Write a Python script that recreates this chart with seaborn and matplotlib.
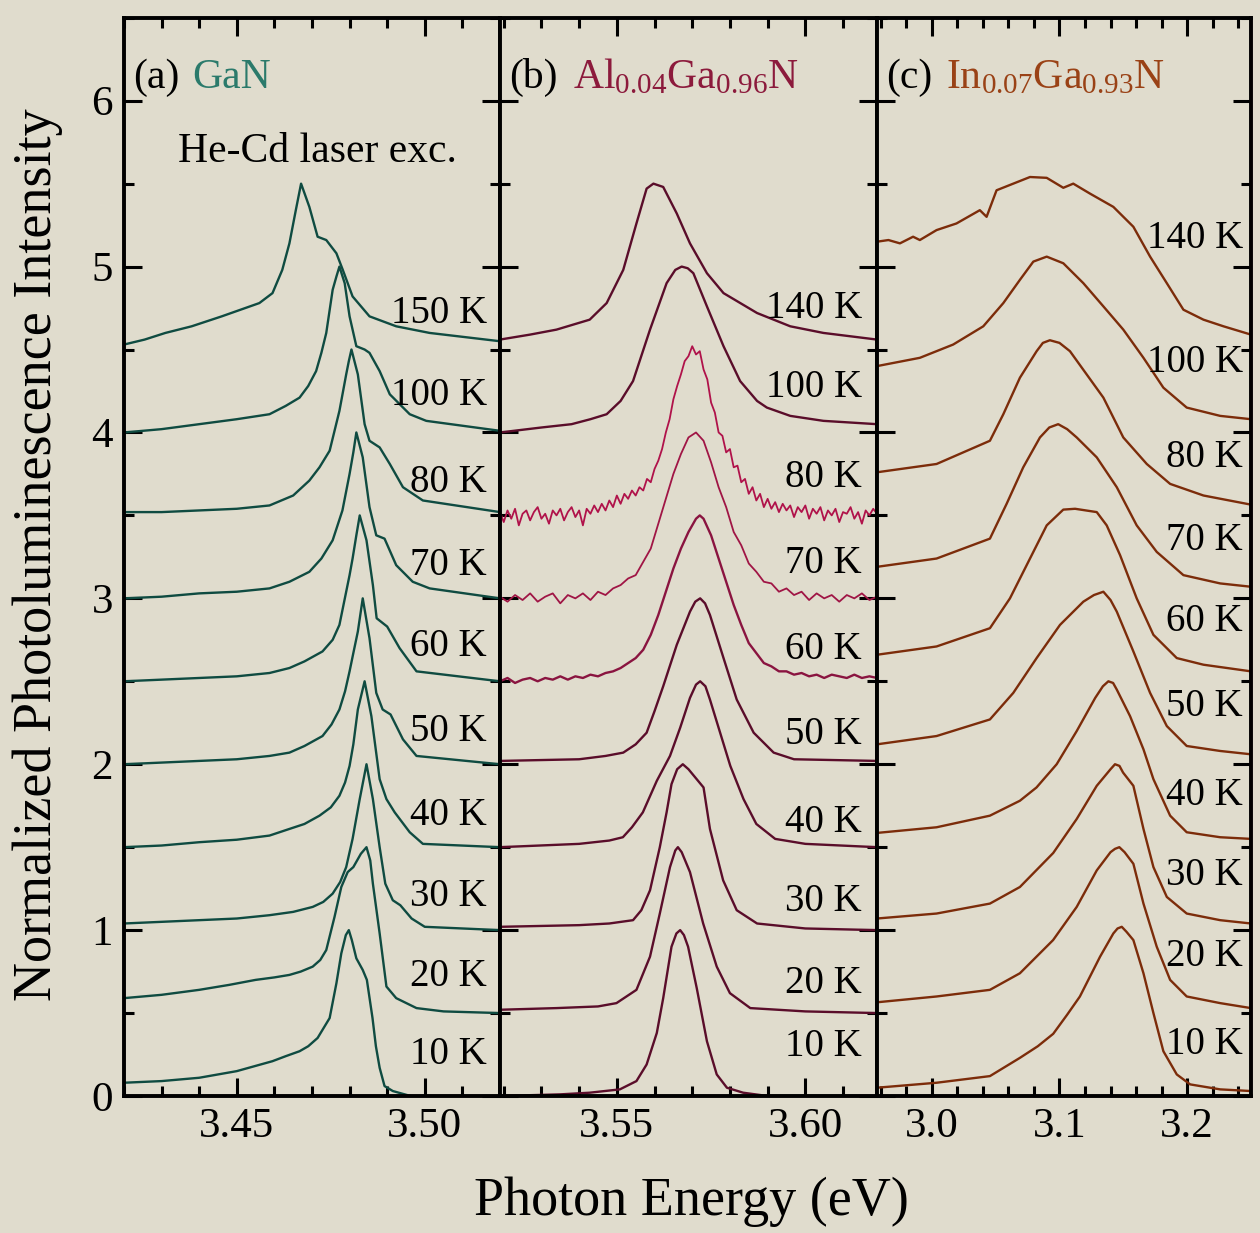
import matplotlib
matplotlib.use('Agg')
import matplotlib.pyplot as plt
import matplotlib.transforms as mtransforms
from matplotlib.ticker import MultipleLocator, FormatStrFormatter
import seaborn as sns

# ---------------- data ----------------
# (a) GaN : photon energy (eV) / normalized intensity, one list pair per temperature
gan_10K_e = [3.420, 3.430, 3.440, 3.450, 3.4595, 3.463, 3.4667, 3.469, 3.4715, 3.4747, 3.4765, 3.4778, 3.4790, 3.4798, 3.4806, 3.4818, 3.4835, 3.4846, 3.4861, 3.4870, 3.4880, 3.4893, 3.4915, 3.4978, 3.5030]
gan_10K_i = [0.08, 0.09, 0.11, 0.15, 0.21, 0.24, 0.27, 0.30, 0.35, 0.47, 0.68, 0.86, 0.97, 1.00, 0.94, 0.83, 0.76, 0.70, 0.47, 0.30, 0.17, 0.06, 0.03, -0.01, -0.06]
gan_20K_e = [3.420, 3.430, 3.440, 3.448, 3.455, 3.460, 3.4640, 3.467, 3.4702, 3.4722, 3.4738, 3.4760, 3.4778, 3.4795, 3.4810, 3.4830, 3.4845, 3.4855, 3.4862, 3.4880, 3.4898, 3.4924, 3.4978, 3.5050, 3.520]
gan_20K_i = [0.09, 0.11, 0.14, 0.17, 0.20, 0.215, 0.23, 0.25, 0.28, 0.32, 0.38, 0.58, 0.76, 0.85, 0.88, 0.96, 1.00, 0.92, 0.78, 0.48, 0.16, 0.09, 0.03, 0.01, 0.0]
gan_30K_e = [3.420, 3.430, 3.440, 3.450, 3.4587, 3.465, 3.4702, 3.473, 3.4755, 3.4775, 3.4791, 3.4808, 3.4827, 3.4845, 3.4862, 3.4880, 3.4895, 3.4915, 3.4935, 3.4965, 3.500, 3.520]
gan_30K_i = [0.04, 0.05, 0.06, 0.07, 0.09, 0.11, 0.14, 0.17, 0.22, 0.29, 0.38, 0.55, 0.79, 1.00, 0.79, 0.50, 0.28, 0.18, 0.15, 0.07, 0.02, 0.0]
gan_40K_e = [3.420, 3.430, 3.440, 3.450, 3.4587, 3.464, 3.468, 3.472, 3.475, 3.4773, 3.4788, 3.480, 3.481, 3.4822, 3.484, 3.4858, 3.488, 3.4898, 3.492, 3.496, 3.4995, 3.520]
gan_40K_i = [0.0, 0.01, 0.03, 0.045, 0.07, 0.11, 0.14, 0.19, 0.24, 0.31, 0.39, 0.49, 0.62, 0.83, 1.00, 0.79, 0.41, 0.29, 0.21, 0.09, 0.02, 0.0]
gan_50K_e = [3.420, 3.430, 3.440, 3.450, 3.4587, 3.464, 3.468, 3.4728, 3.4752, 3.4773, 3.4788, 3.480, 3.481, 3.4822, 3.4835, 3.4853, 3.4871, 3.4888, 3.4909, 3.4942, 3.4978, 3.520]
gan_50K_i = [0.0, 0.01, 0.02, 0.03, 0.05, 0.07, 0.11, 0.17, 0.24, 0.33, 0.44, 0.56, 0.67, 0.80, 1.00, 0.76, 0.43, 0.33, 0.30, 0.15, 0.05, 0.0]
gan_60K_e = [3.420, 3.430, 3.440, 3.450, 3.4587, 3.464, 3.468, 3.4728, 3.4755, 3.4773, 3.4791, 3.4800, 3.4808, 3.4818, 3.4827, 3.4845, 3.4862, 3.4872, 3.4900, 3.4933, 3.4978, 3.520]
gan_60K_i = [0.0, 0.01, 0.02, 0.03, 0.05, 0.08, 0.12, 0.18, 0.25, 0.34, 0.54, 0.64, 0.74, 0.88, 1.00, 0.85, 0.58, 0.38, 0.33, 0.20, 0.06, 0.0]
gan_70K_e = [3.420, 3.430, 3.440, 3.450, 3.4587, 3.464, 3.4693, 3.4725, 3.4755, 3.4768, 3.4781, 3.4800, 3.4810, 3.4818, 3.4835, 3.4853, 3.4871, 3.4893, 3.4924, 3.4968, 3.5013, 3.520]
gan_70K_i = [0.0, 0.01, 0.03, 0.04, 0.06, 0.10, 0.16, 0.24, 0.35, 0.44, 0.53, 0.75, 0.88, 1.00, 0.85, 0.55, 0.38, 0.36, 0.20, 0.10, 0.06, 0.0]
gan_80K_e = [3.420, 3.430, 3.440, 3.450, 3.4587, 3.465, 3.4693, 3.472, 3.4747, 3.476, 3.4773, 3.4791, 3.4798, 3.4805, 3.4822, 3.4840, 3.4853, 3.4880, 3.4907, 3.4942, 3.4995, 3.520]
gan_80K_i = [0.02, 0.02, 0.03, 0.04, 0.06, 0.12, 0.21, 0.29, 0.39, 0.51, 0.63, 0.85, 0.93, 1.00, 0.85, 0.55, 0.45, 0.41, 0.31, 0.17, 0.09, 0.02]
gan_100K_e = [3.420, 3.430, 3.440, 3.450, 3.4587, 3.463, 3.4667, 3.469, 3.4711, 3.4725, 3.4738, 3.4755, 3.4765, 3.4773, 3.4787, 3.4800, 3.4818, 3.4840, 3.4853, 3.4880, 3.4907, 3.4960, 3.5004, 3.520]
gan_100K_i = [0.0, 0.02, 0.05, 0.08, 0.11, 0.16, 0.21, 0.28, 0.37, 0.48, 0.60, 0.86, 0.94, 1.00, 0.90, 0.70, 0.52, 0.50, 0.48, 0.37, 0.23, 0.11, 0.07, 0.01]
gan_150K_e = [3.420, 3.4255, 3.431, 3.438, 3.446, 3.451, 3.456, 3.4595, 3.4621, 3.4640, 3.4657, 3.4671, 3.4693, 3.4715, 3.4738, 3.4765, 3.4782, 3.4808, 3.4853, 3.4924, 3.5013, 3.520]
gan_150K_i = [0.03, 0.06, 0.10, 0.14, 0.20, 0.24, 0.28, 0.34, 0.48, 0.64, 0.84, 1.00, 0.86, 0.68, 0.66, 0.58, 0.48, 0.32, 0.20, 0.14, 0.10, 0.05]

# (b) Al0.04Ga0.96N
alg_10K_e = [3.519, 3.535, 3.5428, 3.5508, 3.5552, 3.5579, 3.5606, 3.5623, 3.5645, 3.5658, 3.5668, 3.5678, 3.5689, 3.5712, 3.5739, 3.5765, 3.5792, 3.5835, 3.590, 3.619]
alg_10K_i = [0.0, 0.01, 0.02, 0.04, 0.09, 0.19, 0.38, 0.59, 0.90, 0.98, 1.00, 0.97, 0.90, 0.65, 0.33, 0.13, 0.05, 0.02, 0.0, 0.0]
alg_20K_e = [3.519, 3.534, 3.545, 3.5499, 3.5552, 3.5588, 3.5614, 3.5641, 3.5655, 3.5662, 3.5672, 3.5694, 3.5729, 3.5765, 3.580, 3.5854, 3.600, 3.619]
alg_20K_i = [0.02, 0.03, 0.04, 0.06, 0.14, 0.34, 0.60, 0.88, 0.98, 1.00, 0.97, 0.85, 0.54, 0.28, 0.12, 0.03, 0.01, 0.0]
alg_30K_e = [3.519, 3.540, 3.548, 3.5543, 3.5565, 3.5588, 3.5614, 3.5632, 3.5645, 3.5660, 3.5675, 3.5690, 3.5730, 3.5747, 3.5782, 3.5818, 3.5872, 3.600, 3.619]
alg_30K_i = [0.02, 0.03, 0.04, 0.06, 0.12, 0.24, 0.50, 0.71, 0.88, 0.97, 1.00, 0.97, 0.86, 0.61, 0.30, 0.12, 0.04, 0.01, 0.0]
alg_40K_e = [3.519, 3.540, 3.548, 3.5516, 3.554, 3.5569, 3.5606, 3.5641, 3.5668, 3.5694, 3.5710, 3.5721, 3.5735, 3.5747, 3.5774, 3.5801, 3.5836, 3.5870, 3.5920, 3.600, 3.619]
alg_40K_i = [0.0, 0.02, 0.04, 0.06, 0.12, 0.21, 0.40, 0.55, 0.72, 0.90, 0.98, 1.00, 0.97, 0.89, 0.69, 0.49, 0.29, 0.14, 0.05, 0.02, 0.0]
alg_50K_e = [3.519, 3.540, 3.547, 3.5517, 3.555, 3.5579, 3.560, 3.5623, 3.5659, 3.5694, 3.5708, 3.5721, 3.5734, 3.5747, 3.5783, 3.5818, 3.5863, 3.5916, 3.597, 3.619]
alg_50K_i = [0.02, 0.03, 0.05, 0.07, 0.12, 0.19, 0.32, 0.47, 0.72, 0.92, 0.98, 1.00, 0.97, 0.90, 0.64, 0.39, 0.19, 0.07, 0.03, 0.02]
alg_60K_e = [3.519, 3.521, 3.523, 3.525, 3.527, 3.529, 3.531, 3.533, 3.535, 3.537, 3.539, 3.541, 3.543, 3.545, 3.547,
             3.549, 3.551, 3.553, 3.555, 3.557, 3.559, 3.561, 3.563, 3.565, 3.567, 3.569, 3.571, 3.572, 3.573, 3.575,
             3.577, 3.579, 3.581, 3.583, 3.585, 3.587, 3.589, 3.591, 3.593, 3.595, 3.597, 3.599, 3.601, 3.603, 3.605,
             3.607, 3.609, 3.611, 3.613, 3.615, 3.617, 3.619]
alg_60K_i = [0.00, 0.02, -0.01, 0.01, 0.02, 0.00, 0.02, 0.01, 0.03, 0.01, 0.03, 0.02, 0.04, 0.03, 0.05,
             0.06, 0.08, 0.11, 0.14, 0.19, 0.28, 0.40, 0.54, 0.68, 0.80, 0.90, 0.98, 1.00, 0.98, 0.88,
             0.74, 0.60, 0.46, 0.34, 0.23, 0.17, 0.11, 0.09, 0.06, 0.06, 0.04, 0.05, 0.03, 0.04, 0.02,
             0.04, 0.03, 0.02, 0.04, 0.02, 0.03, 0.02]
alg_70K_e = [3.519, 3.521, 3.523, 3.525, 3.527, 3.529, 3.531, 3.533, 3.535, 3.537, 3.539, 3.541, 3.543, 3.545, 3.547,
             3.549, 3.551, 3.553, 3.555, 3.557, 3.559, 3.561, 3.563, 3.565, 3.567, 3.569, 3.571, 3.573, 3.575, 3.577,
             3.579, 3.581, 3.583, 3.585, 3.587, 3.589, 3.591, 3.593, 3.595, 3.597, 3.599, 3.601, 3.603, 3.605, 3.607,
             3.609, 3.611, 3.613, 3.615, 3.617, 3.619]
alg_70K_i = [0.01, -0.02, 0.02, -0.01, 0.03, -0.02, 0.01, 0.03, -0.03, 0.02, 0.00, 0.03, -0.01, 0.04, 0.02,
             0.06, 0.08, 0.12, 0.14, 0.22, 0.30, 0.45, 0.60, 0.75, 0.87, 0.97, 1.00, 0.95, 0.82, 0.67,
             0.55, 0.40, 0.32, 0.21, 0.16, 0.10, 0.09, 0.04, 0.06, 0.02, 0.04, -0.01, 0.03, 0.00, 0.02,
             -0.02, 0.02, 0.00, 0.03, -0.01, 0.01]
alg_80K_e = [3.519, 3.520, 3.521, 3.522, 3.523, 3.524, 3.525, 3.526, 3.527, 3.528, 3.529, 3.530, 3.531, 3.532, 3.533,
             3.534, 3.535, 3.536, 3.537, 3.538, 3.539, 3.540, 3.541, 3.542, 3.543, 3.544, 3.545, 3.546, 3.547, 3.548,
             3.549, 3.550, 3.551, 3.552, 3.553, 3.554, 3.555, 3.556, 3.557, 3.558, 3.559, 3.560, 3.561, 3.562, 3.563,
             3.564, 3.565, 3.566, 3.567, 3.568, 3.569, 3.570, 3.571, 3.572, 3.573, 3.574, 3.575, 3.576, 3.577, 3.578,
             3.579, 3.580, 3.581, 3.582, 3.583, 3.584, 3.585, 3.586, 3.587, 3.588, 3.589, 3.590, 3.591, 3.592, 3.593,
             3.594, 3.595, 3.596, 3.597, 3.598, 3.599, 3.600, 3.601, 3.602, 3.603, 3.604, 3.605, 3.606, 3.607, 3.608,
             3.609, 3.610, 3.611, 3.612, 3.613, 3.614, 3.615, 3.616, 3.617, 3.618, 3.619]
alg_80K_i = [0.02, -0.04, 0.03, -0.02, 0.04, -0.06, 0.01, 0.03, -0.03, 0.02, 0.05, -0.02, 0.01, -0.05, 0.03,
             0.00, 0.04, -0.03, 0.02, 0.05, -0.01, 0.03, -0.06, 0.04, 0.01, 0.06, 0.02, 0.07, 0.03, 0.09,
             0.05, 0.12, 0.07, 0.13, 0.10, 0.15, 0.12, 0.17, 0.15, 0.22, 0.20, 0.28, 0.33, 0.40, 0.50,
             0.58, 0.70, 0.78, 0.85, 0.93, 0.96, 1.02, 0.97, 0.99, 0.88, 0.82, 0.68, 0.62, 0.50, 0.48,
             0.38, 0.40, 0.29, 0.30, 0.20, 0.22, 0.13, 0.17, 0.09, 0.13, 0.05, 0.10, 0.04, 0.08, 0.02,
             0.07, 0.03, 0.06, -0.01, 0.05, 0.02, 0.06, -0.02, 0.04, 0.01, 0.05, -0.03, 0.03, 0.00, 0.04,
             -0.04, 0.02, 0.01, 0.05, -0.02, 0.02, -0.05, 0.03, 0.00, 0.04, 0.01]
alg_100K_e = [3.519, 3.530, 3.538, 3.543, 3.5473, 3.551, 3.5543, 3.5588, 3.5632, 3.5655, 3.5672, 3.5688, 3.5703, 3.5739, 3.5783, 3.5827, 3.5872, 3.5898, 3.596, 3.6048, 3.619]
alg_100K_i = [0.0, 0.03, 0.05, 0.08, 0.11, 0.19, 0.31, 0.62, 0.90, 0.98, 1.00, 0.99, 0.96, 0.76, 0.52, 0.31, 0.19, 0.15, 0.10, 0.07, 0.05]
alg_140K_e = [3.519, 3.527, 3.534, 3.5428, 3.5473, 3.5517, 3.5552, 3.5579, 3.5597, 3.5623, 3.5659, 3.5694, 3.5739, 3.5783, 3.5872, 3.596, 3.6048, 3.619]
alg_140K_i = [0.06, 0.09, 0.12, 0.18, 0.28, 0.48, 0.76, 0.97, 1.00, 0.98, 0.82, 0.64, 0.46, 0.34, 0.22, 0.14, 0.10, 0.06]

# (c) In0.07Ga0.93N
ing_10K_e = [2.957, 3.0037, 3.0455, 3.069, 3.083, 3.0951, 3.106, 3.116, 3.1318, 3.1422, 3.1455, 3.1488, 3.1525, 3.1579, 3.1658, 3.1736, 3.1814, 3.1919, 3.2024, 3.2259, 3.250]
ing_10K_i = [0.05, 0.08, 0.12, 0.23, 0.30, 0.375, 0.49, 0.60, 0.84, 0.98, 1.01, 1.02, 0.99, 0.94, 0.74, 0.50, 0.27, 0.13, 0.07, 0.04, 0.03]
ing_20K_e = [2.957, 3.0037, 3.0455, 3.069, 3.095, 3.1135, 3.1292, 3.1400, 3.1435, 3.1469, 3.151, 3.1579, 3.1658, 3.1762, 3.1867, 3.1997, 3.2259, 3.250]
ing_20K_i = [0.065, 0.10, 0.14, 0.24, 0.44, 0.64, 0.86, 0.97, 0.99, 1.00, 0.97, 0.90, 0.66, 0.40, 0.20, 0.10, 0.06, 0.03]
ing_30K_e = [2.957, 3.0037, 3.0455, 3.069, 3.0951, 3.1135, 3.1292, 3.1400, 3.1435, 3.1470, 3.1498, 3.1579, 3.1658, 3.1736, 3.1841, 3.1997, 3.2259, 3.250]
ing_30K_i = [0.07, 0.10, 0.16, 0.26, 0.465, 0.67, 0.87, 0.97, 1.00, 0.99, 0.95, 0.87, 0.61, 0.38, 0.20, 0.10, 0.06, 0.04]
ing_40K_e = [2.957, 3.0037, 3.0455, 3.069, 3.082, 3.0978, 3.1135, 3.128, 3.134, 3.1383, 3.142, 3.1449, 3.1553, 3.1658, 3.1736, 3.1867, 3.1997, 3.2259, 3.250]
ing_40K_i = [0.086, 0.12, 0.19, 0.28, 0.36, 0.50, 0.70, 0.90, 0.97, 1.00, 0.99, 0.95, 0.79, 0.59, 0.41, 0.19, 0.09, 0.06, 0.05]
ing_50K_e = [2.957, 3.0037, 3.0455, 3.0638, 3.0821, 3.1004, 3.1187, 3.127, 3.1344, 3.140, 3.1449, 3.1579, 3.171, 3.1841, 3.1997, 3.2259, 3.250]
ing_50K_i = [0.12, 0.17, 0.27, 0.43, 0.64, 0.84, 0.98, 1.02, 1.04, 0.99, 0.92, 0.68, 0.43, 0.23, 0.11, 0.08, 0.06]
ing_60K_e = [2.957, 3.0037, 3.0455, 3.0612, 3.0769, 3.090, 3.103, 3.1122, 3.1292, 3.137, 3.1475, 3.1605, 3.1736, 3.1919, 3.2128, 3.250]
ing_60K_i = [0.16, 0.21, 0.32, 0.50, 0.74, 0.94, 1.035, 1.04, 1.02, 0.94, 0.76, 0.50, 0.28, 0.14, 0.10, 0.06]
ing_70K_e = [2.957, 3.0037, 3.0455, 3.0586, 3.0716, 3.0847, 3.092, 3.099, 3.106, 3.1135, 3.1292, 3.1449, 3.1605, 3.1762, 3.1971, 3.2259, 3.250]
ing_70K_i = [0.19, 0.24, 0.36, 0.57, 0.79, 0.97, 1.03, 1.05, 1.02, 0.97, 0.85, 0.67, 0.44, 0.28, 0.14, 0.09, 0.07]
ing_80K_e = [2.957, 3.0037, 3.0455, 3.056, 3.069, 3.0821, 3.087, 3.0925, 3.100, 3.1082, 3.1213, 3.1344, 3.150, 3.1684, 3.1867, 3.2128, 3.250]
ing_80K_i = [0.26, 0.31, 0.45, 0.61, 0.83, 0.99, 1.04, 1.056, 1.04, 0.99, 0.85, 0.71, 0.47, 0.31, 0.19, 0.12, 0.065]
ing_100K_e = [2.957, 2.9906, 3.0167, 3.0403, 3.056, 3.069, 3.0795, 3.090, 3.103, 3.1187, 3.1344, 3.150, 3.1658, 3.1814, 3.1997, 3.2259, 3.250]
ing_100K_i = [0.40, 0.45, 0.53, 0.64, 0.78, 0.92, 1.03, 1.06, 1.02, 0.90, 0.76, 0.62, 0.45, 0.27, 0.15, 0.10, 0.08]
ing_140K_e = [2.957, 2.966, 2.975, 2.9853, 2.9906, 3.0037, 3.0193, 3.0376, 3.0429, 3.0507, 3.0638, 3.0769, 3.090, 3.103, 3.1108, 3.1239, 3.1422, 3.1579, 3.171, 3.1841, 3.1971, 3.2128, 3.2285, 3.250]
ing_140K_i = [0.65, 0.66, 0.64, 0.68, 0.66, 0.72, 0.76, 0.84, 0.80, 0.96, 1.00, 1.04, 1.035, 0.975, 1.00, 0.94, 0.86, 0.74, 0.56, 0.40, 0.24, 0.18, 0.14, 0.09]

offsets = [0.0, 0.5, 1.0, 1.5, 2.0, 2.5, 3.0, 3.5, 4.0, 4.5]
gan_temps = ['10 K', '20 K', '30 K', '40 K', '50 K', '60 K', '70 K', '80 K', '100 K', '150 K']
alloy_temps = ['10 K', '20 K', '30 K', '40 K', '50 K', '60 K', '70 K', '80 K', '100 K', '140 K']
gan_label_y = [0.25, 0.72, 1.20, 1.69, 2.20, 2.71, 3.20, 3.70, 4.22, 4.72]
alg_label_y = [0.30, 0.68, 1.17, 1.65, 2.18, 2.69, 3.21, 3.73, 4.27, 4.75]
ing_label_y = [0.31, 0.84, 1.33, 1.81, 2.35, 2.86, 3.35, 3.85, 4.42, 5.17]

gan_curves = [(gan_10K_e, gan_10K_i), (gan_20K_e, gan_20K_i), (gan_30K_e, gan_30K_i), (gan_40K_e, gan_40K_i),
              (gan_50K_e, gan_50K_i), (gan_60K_e, gan_60K_i), (gan_70K_e, gan_70K_i), (gan_80K_e, gan_80K_i),
              (gan_100K_e, gan_100K_i), (gan_150K_e, gan_150K_i)]
alg_curves = [(alg_10K_e, alg_10K_i), (alg_20K_e, alg_20K_i), (alg_30K_e, alg_30K_i), (alg_40K_e, alg_40K_i),
              (alg_50K_e, alg_50K_i), (alg_60K_e, alg_60K_i), (alg_70K_e, alg_70K_i), (alg_80K_e, alg_80K_i),
              (alg_100K_e, alg_100K_i), (alg_140K_e, alg_140K_i)]
ing_curves = [(ing_10K_e, ing_10K_i), (ing_20K_e, ing_20K_i), (ing_30K_e, ing_30K_i), (ing_40K_e, ing_40K_i),
              (ing_50K_e, ing_50K_i), (ing_60K_e, ing_60K_i), (ing_70K_e, ing_70K_i), (ing_80K_e, ing_80K_i),
              (ing_100K_e, ing_100K_i), (ing_140K_e, ing_140K_i)]

# ---------------- style ----------------
sns.set_style('ticks')
plt.rcParams['font.family'] = ['Liberation Serif', 'DejaVu Serif']
plt.rcParams['mathtext.fontset'] = 'custom'
plt.rcParams['mathtext.rm'] = 'Liberation Serif'
plt.rcParams['mathtext.it'] = 'Liberation Serif:italic'
plt.rcParams['text.color'] = 'black'
plt.rcParams['xtick.color'] = 'black'
plt.rcParams['ytick.color'] = 'black'
plt.rcParams['xtick.labelcolor'] = 'black'
plt.rcParams['ytick.labelcolor'] = 'black'

paper = '#e0dccd'
gan_col = '#0f4b41'
alg_cols = ['#5a0d2a'] * 5 + ['#8a1440', '#a01545', '#b0124a', '#5a0d2a', '#5a0d2a']
ing_col = '#7c2c0a'

fig = plt.figure(figsize=(12.6, 12.33), dpi=100, facecolor=paper)
ax_a = fig.add_axes([0.0984, 0.1111, 0.2984, 0.8745])
ax_b = fig.add_axes([0.3968, 0.1111, 0.2992, 0.8745])
ax_c = fig.add_axes([0.6960, 0.1111, 0.2968, 0.8745])

panels = [
    (ax_a, gan_curves, [gan_col] * 10, gan_temps, gan_label_y, 0.965, (3.42, 3.52), 0.05, 0.01, '%.2f'),
    (ax_b, alg_curves, alg_cols, alloy_temps, alg_label_y, 0.960, (3.519, 3.619), 0.05, 0.01, '%.2f'),
    (ax_c, ing_curves, [ing_col] * 10, alloy_temps, ing_label_y, 0.979, (2.957, 3.250), 0.1, 0.02, '%.1f'),
]

for ax, curves, cols, temps, label_y, label_x, xlim, major, minor, fmt in panels:
    ax.set_facecolor(paper)
    for (e, i), off, c in zip(curves, offsets, cols):
        lw = 1.3 if c in ('#a01545', '#b0124a') else 1.7
        sns.lineplot(x=e, y=[v + off for v in i], ax=ax, color=c, linewidth=lw,
                     sort=False, estimator=None)
    trans = mtransforms.blended_transform_factory(ax.transAxes, ax.transData)
    for t, yv in zip(temps, label_y):
        ax.text(label_x, yv, t, transform=trans, ha='right', va='center', fontsize=28)
    ax.set_xlim(*xlim)
    ax.set_ylim(0, 6.5)
    ax.xaxis.set_major_locator(MultipleLocator(major))
    ax.xaxis.set_minor_locator(MultipleLocator(minor))
    ax.xaxis.set_major_formatter(FormatStrFormatter(fmt))
    ax.yaxis.set_major_locator(MultipleLocator(1))
    ax.yaxis.set_minor_locator(MultipleLocator(0.5))
    ax.tick_params(which='both', direction='in', top=True, right=True, bottom=True, left=True,
                   width=2.2, color='black', labelcolor='black', labelsize=31, pad=8)
    ax.tick_params(which='major', length=13)
    ax.tick_params(which='minor', length=7)
    for s in ax.spines.values():
        s.set_linewidth(2.8)
        s.set_color('black')
    ax.set_xlabel('')
    ax.set_ylabel('')
    if ax is not ax_a:
        ax.tick_params(axis='y', labelleft=False)

# panel titles
ax_a.text(0.024, 0.935, '(a)', transform=ax_a.transAxes, fontsize=30, va='baseline')
ax_a.text(0.181, 0.935, 'GaN', transform=ax_a.transAxes, fontsize=30, va='baseline', color='#2b7a6b')
ax_a.text(0.144, 0.866, 'He-Cd laser exc.', transform=ax_a.transAxes, fontsize=30, va='baseline')
ax_b.text(0.024, 0.935, '(b)', transform=ax_b.transAxes, fontsize=30, va='baseline')
ax_b.text(0.194, 0.935, r'Al$_{0.04}$Ga$_{0.96}$N', transform=ax_b.transAxes, fontsize=30,
          va='baseline', color='#8c1a3c')
ax_c.text(0.024, 0.935, '(c)', transform=ax_c.transAxes, fontsize=30, va='baseline')
ax_c.text(0.184, 0.935, r'In$_{0.07}$Ga$_{0.93}$N', transform=ax_c.transAxes, fontsize=30,
          va='baseline', color='#9a4216')

fig.text(0.030, 0.55, 'Normalized Photoluminescence Intensity', rotation=90,
         ha='center', va='center', fontsize=39)
fig.text(0.549, 0.025, 'Photon Energy (eV)', ha='center', va='center', fontsize=39)

fig.savefig('out.png', dpi=100, facecolor=paper)
